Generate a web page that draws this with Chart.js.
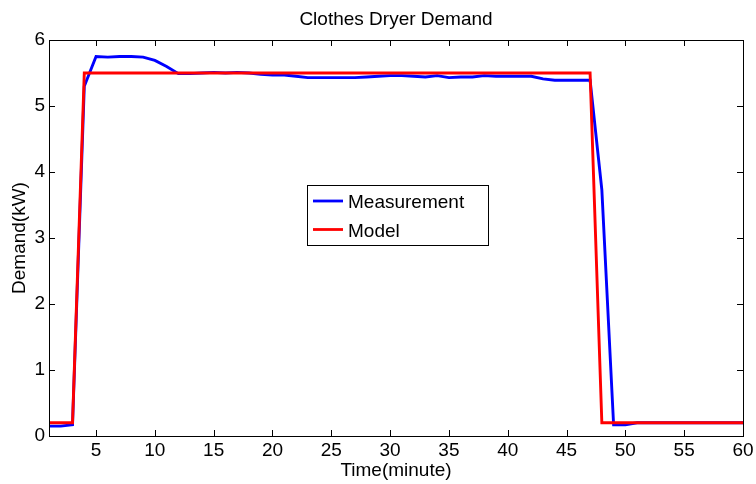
<!DOCTYPE html>
<html>
<head>
<meta charset="utf-8">
<script src="https://cdn.jsdelivr.net/npm/chart.js@4.4.1/dist/chart.umd.min.js"></script>
<style>
  html, body { margin: 0; padding: 0; background: #fff; }
  #wrap { width: 756px; height: 484px; position: relative; }
</style>
</head>
<body>
<div id="wrap"><canvas id="c" width="756" height="484"></canvas></div>
<script>
// data
const minutes = [1, 2, 3, 4, 5, 6, 7, 8, 9, 10,
    11, 12, 13, 14, 15, 16, 17, 18, 19, 20,
    21, 22, 23, 24, 25, 26, 27, 28, 29, 30,
    31, 32, 33, 34, 35, 36, 37, 38, 39, 40,
    41, 42, 43, 44, 45, 46, 47, 48, 49, 50,
    51, 52, 53, 54, 55, 56, 57, 58, 59, 60];

const measurement = [0.15, 0.15, 0.17, 5.30, 5.75, 5.74, 5.75, 5.75, 5.74, 5.69,
    5.60, 5.49, 5.49, 5.50, 5.51, 5.50, 5.51, 5.50, 5.48, 5.47,
    5.47, 5.45, 5.43, 5.43, 5.43, 5.43, 5.43, 5.44, 5.45, 5.46,
    5.46, 5.45, 5.44, 5.46, 5.43, 5.44, 5.44, 5.46, 5.45, 5.45,
    5.45, 5.45, 5.41, 5.39, 5.39, 5.39, 5.39, 3.73, 0.17, 0.17,
    0.20, 0.20, 0.20, 0.20, 0.20, 0.20, 0.20, 0.20, 0.20, 0.20];

const model = [0.2, 0.2, 0.2, 5.5, 5.5, 5.5, 5.5, 5.5, 5.5, 5.5,
    5.5, 5.5, 5.5, 5.5, 5.5, 5.5, 5.5, 5.5, 5.5, 5.5,
    5.5, 5.5, 5.5, 5.5, 5.5, 5.5, 5.5, 5.5, 5.5, 5.5,
    5.5, 5.5, 5.5, 5.5, 5.5, 5.5, 5.5, 5.5, 5.5, 5.5,
    5.5, 5.5, 5.5, 5.5, 5.5, 5.5, 5.5, 0.2, 0.2, 0.2,
    0.2, 0.2, 0.2, 0.2, 0.2, 0.2, 0.2, 0.2, 0.2, 0.2];

const xTicks = [5, 10, 15, 20, 25, 30, 35, 40, 45, 50, 55, 60];
const yTicks = [0, 1, 2, 3, 4, 5, 6];

const FONT = 'Liberation Sans, Arial, sans-serif';

// matlab style frame: box, inward ticks, title, legend
const matlabFrame = {
    id: 'matlabFrame',
    afterDraw(chart) {
        const ctx = chart.ctx;
        const a = chart.chartArea;
        const xs = chart.scales.x, ys = chart.scales.y;
        const tl = 6;
        ctx.save();
        ctx.strokeStyle = '#000';
        ctx.lineWidth = 1;
        ctx.beginPath();
        xTicks.forEach(v => {
            const px = Math.round(xs.getPixelForValue(v)) + 0.5;
            ctx.moveTo(px, a.bottom); ctx.lineTo(px, a.bottom - tl);
            ctx.moveTo(px, a.top); ctx.lineTo(px, a.top + tl);
        });
        yTicks.forEach(v => {
            const py = Math.round(ys.getPixelForValue(v)) + 0.5;
            ctx.moveTo(a.left, py); ctx.lineTo(a.left + tl, py);
            ctx.moveTo(a.right, py); ctx.lineTo(a.right - tl, py);
        });
        ctx.stroke();
        ctx.strokeRect(Math.round(a.left) + 0.5, Math.round(a.top) + 0.5,
            Math.round(a.right - a.left), Math.round(a.bottom - a.top));

        // title
        ctx.fillStyle = '#000';
        ctx.font = '19px ' + FONT;
        ctx.textAlign = 'center';
        ctx.textBaseline = 'alphabetic';
        ctx.fillText('Clothes Dryer Demand', (a.left + a.right) / 2, 25);

        // legend
        const bx = a.left + 258, by = a.top + 145, bw = 181, bh = 60;
        ctx.fillStyle = '#fff';
        ctx.fillRect(bx, by, bw, bh);
        ctx.strokeStyle = '#000';
        ctx.lineWidth = 1;
        ctx.strokeRect(bx + 0.5, by + 0.5, bw, bh);
        chart.data.datasets.forEach((ds, i) => {
            const ly = by + 16 + i * 28.5;
            ctx.strokeStyle = ds.borderColor;
            ctx.lineWidth = 2.8;
            ctx.beginPath();
            ctx.moveTo(bx + 6, ly); ctx.lineTo(bx + 36, ly);
            ctx.stroke();
            ctx.fillStyle = '#000';
            ctx.textAlign = 'left';
            ctx.textBaseline = 'alphabetic';
            ctx.fillText(ds.label, bx + 41, ly + 7);
        });
        ctx.restore();
    }
};

new Chart(document.getElementById('c'), {
    type: 'line',
    data: {
        datasets: [
            {
                label: 'Measurement',
                data: minutes.map((m, i) => ({ x: m, y: measurement[i] })),
                borderColor: '#0000ff',
                borderWidth: 2.9,
                pointRadius: 0,
                tension: 0,
                order: 2
            },
            {
                label: 'Model',
                data: minutes.map((m, i) => ({ x: m, y: model[i] })),
                borderColor: '#ff0000',
                borderWidth: 2.9,
                pointRadius: 0,
                tension: 0,
                order: 1
            }
        ]
    },
    options: {
        responsive: false,
        animation: false,
        events: [],
        layout: { padding: { top: 40, right: 13, left: 0, bottom: 0 } },
        plugins: {
            legend: { display: false },
            tooltip: { enabled: false },
            title: { display: false }
        },
        scales: {
            x: {
                type: 'linear',
                min: 1,
                max: 60,
                afterBuildTicks: s => { s.ticks = xTicks.map(v => ({ value: v })); },
                afterFit: s => { s.height = 48; s.paddingRight = 0; s.paddingLeft = 0; },
                grid: { drawOnChartArea: false, drawTicks: false },
                border: { color: '#000', width: 1 },
                ticks: {
                    color: '#000',
                    padding: 5,
                    maxRotation: 0,
                    autoSkip: false,
                    font: { family: FONT, size: 19, lineHeight: 1 }
                },
                title: {
                    display: true,
                    text: 'Time(minute)',
                    color: '#000',
                    padding: { top: 0, bottom: 3.5 },
                    font: { family: FONT, size: 19, lineHeight: 1 }
                }
            },
            y: {
                min: 0,
                max: 6,
                afterBuildTicks: s => { s.ticks = yTicks.map(v => ({ value: v })); },
                afterFit: s => { s.width = 49; s.paddingTop = 0; s.paddingBottom = 0; },
                grid: { drawOnChartArea: false, drawTicks: false },
                border: { color: '#000', width: 1 },
                ticks: {
                    color: '#000',
                    padding: 4,
                    font: { family: FONT, size: 19, lineHeight: 1 }
                },
                title: {
                    display: true,
                    text: 'Demand(kW)',
                    color: '#000',
                    padding: { top: 10.5, bottom: 0 },
                    font: { family: FONT, size: 19, lineHeight: 1 }
                }
            }
        }
    },
    plugins: [matlabFrame]
});
</script>
</body>
</html>
